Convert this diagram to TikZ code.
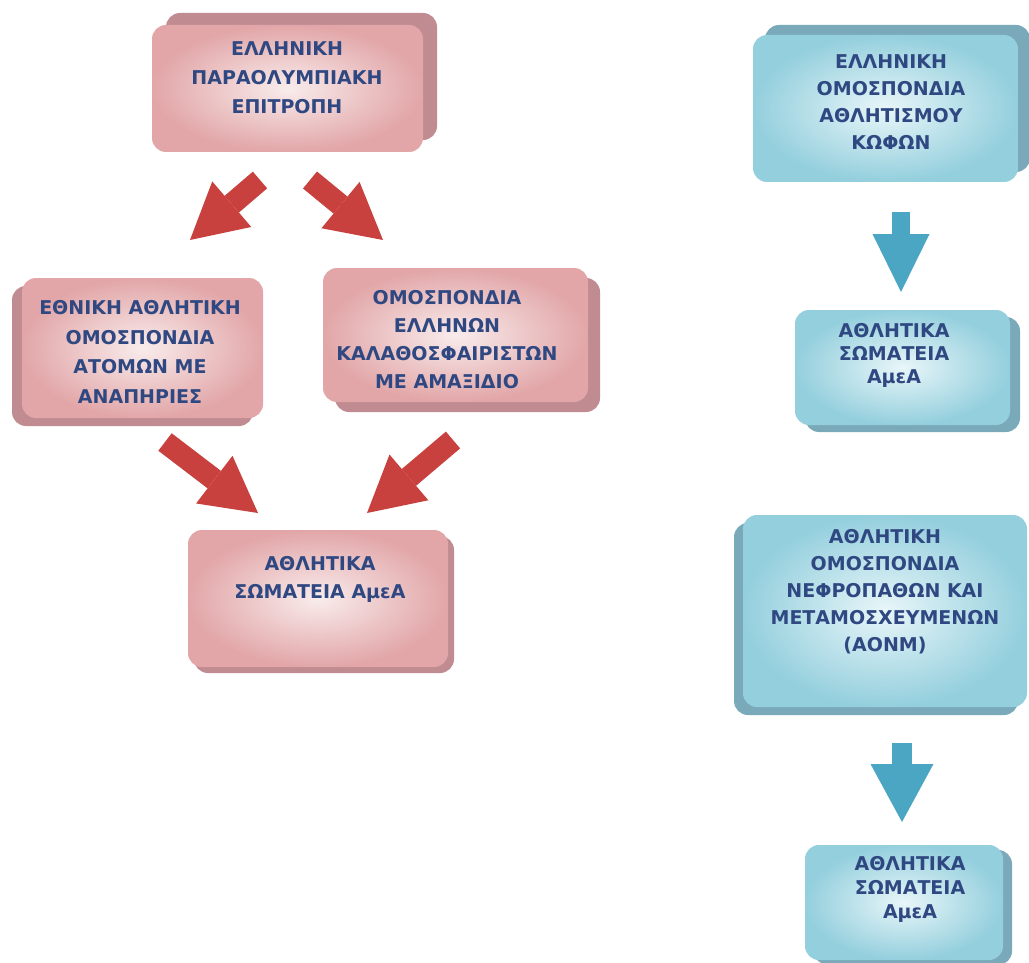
\documentclass[tikz,border=0pt]{standalone}
\usepackage{fontspec}
\setmainfont{DejaVu Sans}
\usepackage{tikz}
\usetikzlibrary{shadows,arrows.meta}
\definecolor{pinkdark}{RGB}{226,166,168}
\definecolor{pinklight}{RGB}{249,236,236}
\definecolor{pinkshade}{RGB}{192,140,146}
\definecolor{cyandark}{RGB}{148,207,221}
\definecolor{cyanlight}{RGB}{232,246,249}
\definecolor{cyanshade}{RGB}{122,170,186}
\definecolor{txtblue}{RGB}{47,72,130}
\definecolor{arrred}{RGB}{201,65,62}
\definecolor{arrcyan}{RGB}{74,166,194}

\begin{document}
\begin{tikzpicture}[x=1pt,y=-1pt,
pbox/.style n args={4}{rectangle,rounded corners=14pt,minimum width=#1pt,minimum height=#2pt,inner color=pinklight,outer color=pinkdark,general shadow={fill=pinkshade,shadow xshift=#3pt,shadow yshift=#4pt}},
cbox/.style n args={4}{rectangle,rounded corners=14pt,minimum width=#1pt,minimum height=#2pt,inner color=cyanlight,outer color=cyandark,general shadow={fill=cyanshade,shadow xshift=#3pt,shadow yshift=#4pt}},
btext/.style={text=txtblue,align=center,font=\bfseries\fontsize{19}{#1}\selectfont},
rarr/.style={draw=arrred,line width=22pt,-{Triangle[length=55pt,width=60pt,line width=0pt]}},
carr/.style 2 args={draw=arrcyan,line width=#1pt,-{Triangle[length=58pt,width=#2pt,line width=0pt]}}]
\path[fill=white,use as bounding box] (0,0) rectangle (1029,963);
\node[pbox={271}{127}{14}{12}] (epe) at (287.5,88.5) {};
\node[pbox={241}{140}{-10}{-8}] (eoaa) at (142.5,348) {};
\node[pbox={265}{134}{12}{-10}] (oeka) at (455.5,335) {};
\node[pbox={260}{137}{6}{-6}] (sam) at (318,598.5) {};
\node[cbox={265}{147}{12}{10}] (eoak) at (885.5,108.5) {};
\node[cbox={215}{115}{10}{-7}] (samk) at (902.5,367.5) {};
\node[cbox={284}{192}{-9}{-8}] (aonm) at (885,611) {};
\node[cbox={198}{115}{9}{-5}] (samn) at (904,902.5) {};
\node[btext=29] (epe-t) at (287,77.5) {ΕΛΛΗΝΙΚΗ\\ΠΑΡΑΟΛΥΜΠΙΑΚΗ\\ΕΠΙΤΡΟΠΗ};
\node[btext=29.5] (eoaa-t) at (140,352) {ΕΘΝΙΚΗ ΑΘΛΗΤΙΚΗ\\ΟΜΟΣΠΟΝΔΙΑ\\ΑΤΟΜΩΝ ΜΕ\\ΑΝΑΠΗΡΙΕΣ};
\node[btext=28] (oeka-t) at (447,340) {ΟΜΟΣΠΟΝΔΙΑ\\ΕΛΛΗΝΩΝ\\ΚΑΛΑΘΟΣΦΑΙΡΙΣΤΩΝ\\ΜΕ ΑΜΑΞΙΔΙΟ};
\node[btext=28] (sam-t) at (320,579) {ΑΘΛΗΤΙΚΑ\\ΣΩΜΑΤΕΙΑ ΑμεΑ};
\node[btext=27] (eoak-t) at (891,102.5) {ΕΛΛΗΝΙΚΗ\\ΟΜΟΣΠΟΝΔΙΑ\\ΑΘΛΗΤΙΣΜΟΥ\\ΚΩΦΩΝ};
\node[btext=23] (samk-t) at (894,355) {ΑΘΛΗΤΙΚΑ\\ΣΩΜΑΤΕΙΑ\\ΑμεΑ};
\node[btext=27] (aonm-t) at (885,592) {ΑΘΛΗΤΙΚΗ\\ΟΜΟΣΠΟΝΔΙΑ\\ΝΕΦΡΟΠΑΘΩΝ ΚΑΙ\\ΜΕΤΑΜΟΣΧΕΥΜΕΝΩΝ\\(ΑΟΝΜ)};
\node[btext=24] (samn-t) at (910,889) {ΑΘΛΗΤΙΚΑ\\ΣΩΜΑΤΕΙΑ\\ΑμεΑ};
\coordinate (r1s) at (260,180); \coordinate (r1e) at (190,240);
\coordinate (r2s) at (310,180); \coordinate (r2e) at (383,240);
\coordinate (r3s) at (165,442); \coordinate (r3e) at (258,513);
\coordinate (r4s) at (453,440); \coordinate (r4e) at (367,513);
\coordinate (c1s) at (901,212); \coordinate (c1e) at (901,292);
\coordinate (c2s) at (902,743); \coordinate (c2e) at (902,822);
\foreach \s/\e in {r1s/r1e,r2s/r2e,r3s/r3e,r4s/r4e} {
   \draw[rarr] (\s) -- (\e);
}
\draw[carr={18}{57}] (c1s) -- (c1e);
\draw[carr={20}{63}] (c2s) -- (c2e);
\end{tikzpicture}
\end{document}
